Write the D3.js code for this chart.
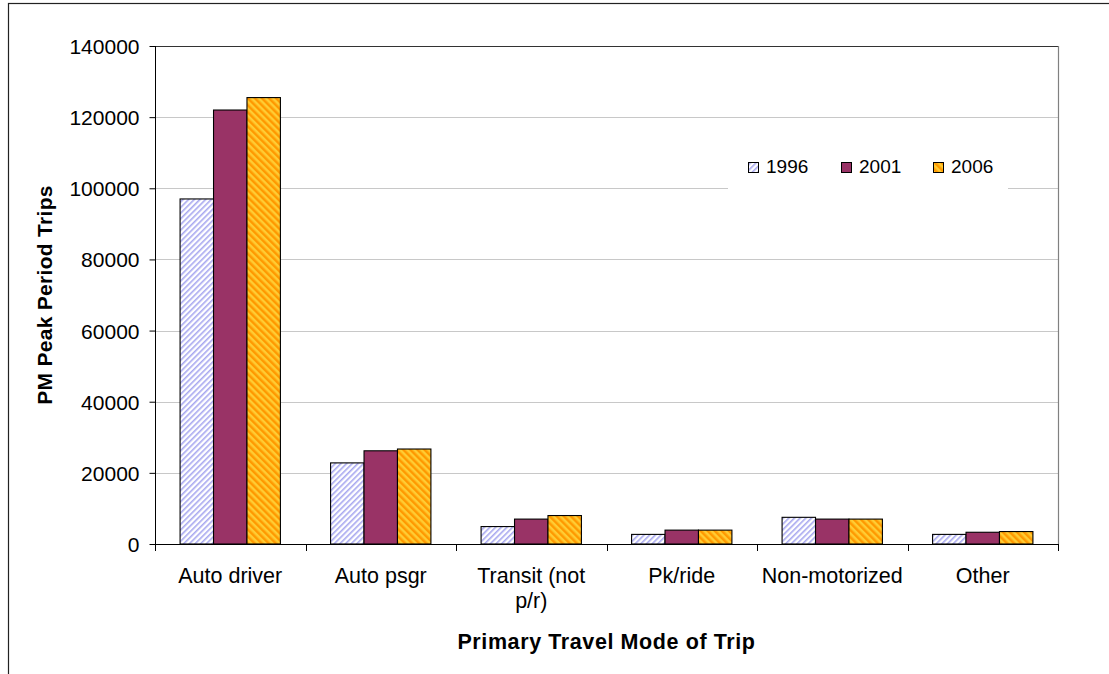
<!DOCTYPE html>
<html>
<head>
<meta charset="utf-8">
<script src="https://cdn.jsdelivr.net/npm/d3@7"></script>
<style>
  html, body { margin: 0; padding: 0; background: #fff; }
  svg { display: block; font-family: "Liberation Sans", Arial, sans-serif; }
</style>
</head>
<body>
<svg id="chart" width="1109" height="674"></svg>
<script>
// Trip counts by primary travel mode, PM peak period
const categories = ["Auto driver", "Auto psgr", "Transit (not p/r)", "Pk/ride", "Non-motorized", "Other"];
const categoryLines = [["Auto driver"], ["Auto psgr"], ["Transit (not", "p/r)"], ["Pk/ride"], ["Non-motorized"], ["Other"]];
const years = ["1996", "2001", "2006"];
const trips1996 = [97000, 22800, 4900, 2700, 7500, 2700];
const trips2001 = [122000, 26200, 7000, 3900, 7000, 3300];
const trips2006 = [125500, 26700, 8000, 3900, 7000, 3500];
const yTicks = [0, 20000, 40000, 60000, 80000, 100000, 120000, 140000];

const series = [trips1996, trips2001, trips2006];

const svg = d3.select("#chart");
const plot = { left: 155, right: 1058, top: 46, bottom: 544 };

// fill patterns
const defs = svg.append("defs");
const p96 = defs.append("pattern").attr("id", "pat1996")
  .attr("patternUnits", "userSpaceOnUse").attr("width", 4).attr("height", 4)
  .attr("patternTransform", "rotate(45)");
p96.append("rect").attr("width", 4).attr("height", 4).attr("fill", "#ffffff");
p96.append("rect").attr("width", 1.6).attr("height", 4).attr("fill", "#a8a8f0");

const p06 = defs.append("pattern").attr("id", "pat2006")
  .attr("patternUnits", "userSpaceOnUse").attr("width", 5).attr("height", 5)
  .attr("patternTransform", "rotate(-45)");
p06.append("rect").attr("width", 5).attr("height", 5).attr("fill", "#ffcc33");
p06.append("rect").attr("width", 2.5).attr("height", 5).attr("fill", "#ff9900");

const fills = ["url(#pat1996)", "#993366", "url(#pat2006)"];

// outer chart frame
svg.append("rect").attr("x", 8.5).attr("y", 3.5).attr("width", 1200).attr("height", 800)
  .attr("fill", "none").attr("stroke", "#222").attr("stroke-width", 1.2);

const y = d3.scaleLinear().domain([0, 140000]).range([plot.bottom, plot.top]);
const x0 = d3.scaleBand().domain(categories).range([plot.left, plot.right]).padding(0);
const x1 = d3.scaleBand().domain(years).range([0, x0.bandwidth()]).paddingInner(0).paddingOuter(0.75);

// gridlines
svg.append("g").selectAll("line").data(yTicks.filter(t => t > 0 && t < 140000)).join("line")
  .attr("x1", plot.left).attr("x2", plot.right)
  .attr("y1", d => Math.round(y(d)) + 0.5).attr("y2", d => Math.round(y(d)) + 0.5)
  .attr("stroke", "#c8c8c8").attr("stroke-width", 1);

// plot area border (top and right)
svg.append("line").attr("x1", plot.left).attr("x2", plot.right + 0.5)
  .attr("y1", plot.top + 0.5).attr("y2", plot.top + 0.5).attr("stroke", "#333");
svg.append("line").attr("x1", plot.right + 0.5).attr("x2", plot.right + 0.5)
  .attr("y1", plot.top).attr("y2", plot.bottom).attr("stroke", "#808080").attr("stroke-width", 1.2);

// bars
const groups = svg.append("g").selectAll("g").data(categories).join("g")
  .attr("transform", c => `translate(${x0(c)},0)`);
groups.selectAll("rect").data((c, i) => years.map((yr, k) => ({ yr, k, v: series[k][i] }))).join("rect")
  .attr("x", d => x1(d.yr))
  .attr("y", d => y(d.v))
  .attr("width", x1.bandwidth())
  .attr("height", d => y(0) - y(d.v))
  .attr("fill", d => fills[d.k])
  .attr("stroke", "#000").attr("stroke-width", 1.1);

// y axis
const yAxis = d3.axisLeft(y).tickValues(yTicks).tickSize(6).tickPadding(10).tickFormat(d3.format("d"));
const gy = svg.append("g").attr("transform", `translate(${plot.left + 0.5},0)`).call(yAxis);
gy.select(".domain").attr("stroke", "#000").attr("d", `M0,${plot.top}V${plot.bottom}`);
gy.selectAll(".tick line").attr("stroke", "#000");
gy.selectAll(".tick text").attr("font-size", 21).attr("fill", "#000")
  .attr("font-family", "Liberation Sans, Arial, sans-serif").attr("dy", "0.36em");

// x axis with ticks on category boundaries
const boundaries = categories.map(c => x0(c)).concat([x0.range()[1]]);
svg.append("line").attr("x1", plot.left).attr("x2", plot.right + 1)
  .attr("y1", plot.bottom + 0.5).attr("y2", plot.bottom + 0.5).attr("stroke", "#000");
svg.append("g").selectAll("line").data(boundaries).join("line")
  .attr("x1", d => Math.round(d) + 0.5).attr("x2", d => Math.round(d) + 0.5)
  .attr("y1", plot.bottom).attr("y2", plot.bottom + 7).attr("stroke", "#000");

// category labels
const lab = svg.append("g").selectAll("text").data(categories).join("text")
  .attr("x", c => x0(c) + x0.bandwidth() / 2)
  .attr("y", 583)
  .attr("text-anchor", "middle").attr("font-size", 21.5).attr("fill", "#000");
lab.selectAll("tspan").data((c, i) => categoryLines[i]).join("tspan")
  .attr("x", function () { return d3.select(this.parentNode).attr("x"); })
  .attr("dy", (d, i) => i === 0 ? 0 : 25)
  .text(d => d);

// axis titles
svg.append("text").attr("x", (plot.left + plot.right) / 2).attr("y", 649)
  .attr("text-anchor", "middle").attr("font-size", 21.5).attr("font-weight", "bold")
  .attr("letter-spacing", 0.6)
  .text("Primary Travel Mode of Trip");
svg.append("text").attr("transform", `translate(52,${(plot.top + plot.bottom) / 2}) rotate(-90)`)
  .attr("text-anchor", "middle").attr("font-size", 21).attr("font-weight", "bold")
  .attr("letter-spacing", 0.3)
  .text("PM Peak Period Trips");

// legend
const legend = svg.append("g");
legend.append("rect").attr("x", 728).attr("y", 146).attr("width", 280).attr("height", 46).attr("fill", "#fff");
const legendX = [748, 841, 933];
const items = legend.selectAll("g").data(years).join("g")
  .attr("transform", (d, i) => `translate(${legendX[i]},0)`);
items.append("rect").attr("x", 0.5).attr("y", 162.5).attr("width", 10).attr("height", 10)
  .attr("fill", (d, i) => fills[i]).attr("stroke", "#000");
items.append("text").attr("x", 18).attr("y", 173).attr("font-size", 19).attr("fill", "#000").text(d => d);
</script>
</body>
</html>
